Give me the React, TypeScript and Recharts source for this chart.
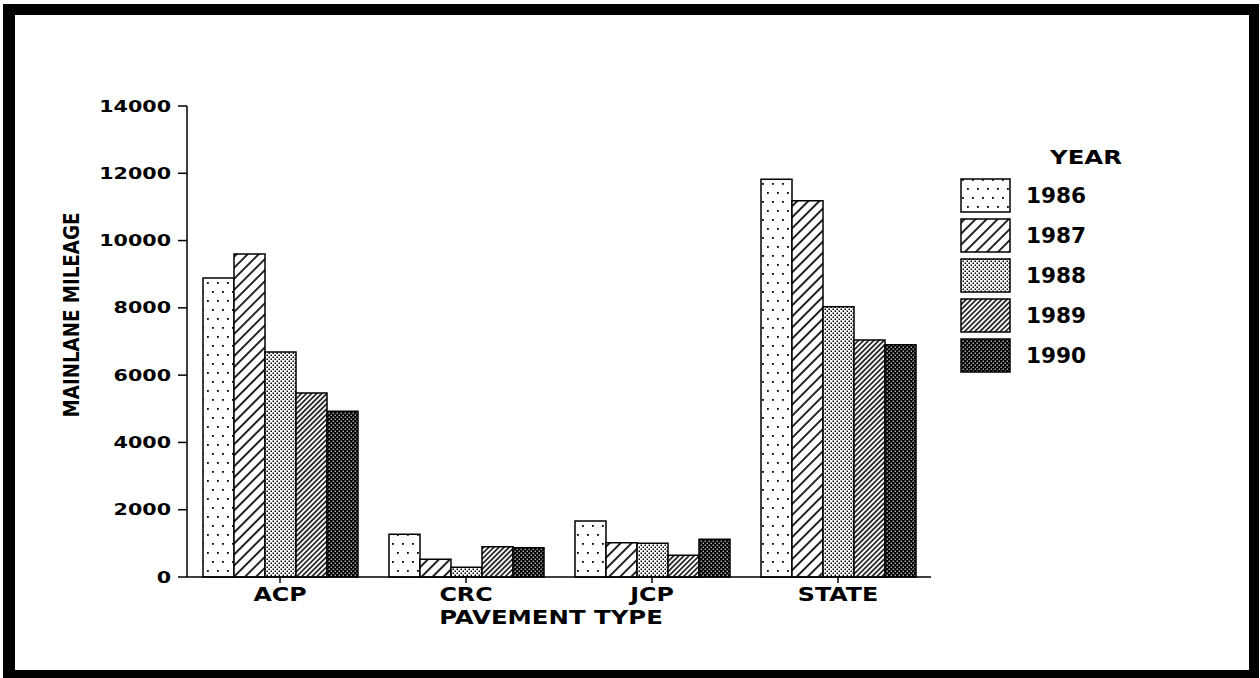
import React from 'react';
import { BarChart, Bar, XAxis, YAxis, Label } from 'recharts';

// Mainlane mileage by pavement type, one series per survey year
const pavementTypes = ['ACP', 'CRC', 'JCP', 'STATE'];
const years = ['1986', '1987', '1988', '1989', '1990'];
const mileage1986 = [8890, 1270, 1665, 11820];
const mileage1987 = [9600, 530, 1020, 11180];
const mileage1988 = [6690, 290, 1000, 8035];
const mileage1989 = [5470, 900, 650, 7045];
const mileage1990 = [4930, 870, 1120, 6900];
const yTicks = [0, 2000, 4000, 6000, 8000, 10000, 12000, 14000];

const seriesValues = [mileage1986, mileage1987, mileage1988, mileage1989, mileage1990];

const chartData = pavementTypes.map((type, i) => {
  const row: Record<string, string | number> = { type };
  years.forEach((year, j) => {
    row[year] = seriesValues[j][i];
  });
  return row;
});

const FONT = '"DejaVu Sans", Arial, sans-serif';

// hatch / dot fills, shared by the bars and the legend swatches
const PatternDefs = () => (
  <svg width={0} height={0} style={{ position: 'absolute' }}>
    <defs>
      <pattern id="pat-1986" width={10} height={18} patternUnits="userSpaceOnUse">
        <rect width={10} height={18} fill="#fff" />
        <rect x={2} y={3} width={1.8} height={1.8} fill="#000" />
        <rect x={7} y={12} width={1.8} height={1.8} fill="#000" />
      </pattern>
      <pattern
        id="pat-1987"
        width={7.8}
        height={7.8}
        patternUnits="userSpaceOnUse"
        patternTransform="rotate(45)"
      >
        <rect width={7.8} height={7.8} fill="#fff" />
        <line x1={3.9} y1={0} x2={3.9} y2={7.8} stroke="#000" strokeWidth={1.7} />
      </pattern>
      <pattern id="pat-1988" width={4} height={4} patternUnits="userSpaceOnUse">
        <rect width={4} height={4} fill="#fff" />
        <rect x={0.5} y={0.5} width={1.5} height={1.5} fill="#000" />
        <rect x={2.5} y={2.5} width={1.5} height={1.5} fill="#000" />
      </pattern>
      <pattern
        id="pat-1989"
        width={3.6}
        height={3.6}
        patternUnits="userSpaceOnUse"
        patternTransform="rotate(45)"
      >
        <rect width={3.6} height={3.6} fill="#fff" />
        <line x1={1.8} y1={0} x2={1.8} y2={3.6} stroke="#000" strokeWidth={1.5} />
      </pattern>
      <pattern id="pat-1990" width={4} height={4} patternUnits="userSpaceOnUse">
        <rect width={4} height={4} fill="#000" />
        <rect x={0.6} y={0.6} width={1.2} height={1.2} fill="#fff" />
        <rect x={2.6} y={2.6} width={1.2} height={1.2} fill="#fff" />
      </pattern>
    </defs>
  </svg>
);

const YTick = ({ x, y, payload }: any) => (
  <text
    transform={`translate(${x},${y}) scale(1.29,1)`}
    textAnchor="end"
    dominantBaseline="central"
    fontFamily={FONT}
    fontWeight="bold"
    fontSize={16}
    fill="#000"
  >
    {payload.value}
  </text>
);

const XTick = ({ x, y, payload }: any) => (
  <text
    transform={`translate(${x},${y + 16}) scale(1.25,1)`}
    textAnchor="middle"
    fontFamily={FONT}
    fontWeight="bold"
    fontSize={19}
    fill="#000"
  >
    {payload.value}
  </text>
);

const XTitle = ({ viewBox }: any) => (
  <text
    transform={`translate(${viewBox.x + viewBox.width / 2 - 8},${viewBox.y + 47}) scale(1.22,1)`}
    textAnchor="middle"
    fontFamily={FONT}
    fontWeight="bold"
    fontSize={20}
    fill="#000"
  >
    PAVEMENT TYPE
  </text>
);

const YTitle = ({ viewBox }: any) => (
  <text
    transform={`translate(${viewBox.x + 4.5},315) rotate(-90) scale(0.83,1)`}
    textAnchor="middle"
    dominantBaseline="central"
    fontFamily={FONT}
    fontWeight="bold"
    fontSize={22}
    fill="#000"
  >
    MAINLANE MILEAGE
  </text>
);

const YearLegend = () => (
  <svg
    width={200}
    height={250}
    style={{ position: 'absolute', left: 950, top: 140 }}
  >
    <text
      transform="translate(136,17) scale(1.22,1)"
      textAnchor="middle"
      dominantBaseline="central"
      fontFamily={FONT}
      fontWeight="bold"
      fontSize={20}
      fill="#000"
    >
      YEAR
    </text>
    {years.map((year, i) => (
      <g key={year}>
        <rect
          x={11}
          y={39 + 40 * i}
          width={49}
          height={33}
          fill={`url(#pat-${year})`}
          stroke="#000"
          strokeWidth={1.5}
        />
        <text
          transform={`translate(76,${55.5 + 40 * i}) scale(1.03,1)`}
          dominantBaseline="central"
          fontFamily={FONT}
          fontWeight="bold"
          fontSize={21}
          fill="#000"
        >
          {year}
        </text>
      </g>
    ))}
  </svg>
);

export default function App() {
  return (
    <div
      style={{
        position: 'absolute',
        left: 0,
        top: 0,
        width: 1260,
        height: 678,
        background: '#fff',
        overflow: 'hidden',
      }}
    >
      <PatternDefs />
      <div
        style={{
          position: 'absolute',
          left: 3,
          top: 4,
          width: 1256,
          height: 674,
          boxSizing: 'border-box',
          borderStyle: 'solid',
          borderColor: '#000',
          borderWidth: '11px 10px 8px 12px',
        }}
      />
      <div style={{ position: 'absolute', left: 0, top: 0 }}>
        <BarChart
          width={1260}
          height={678}
          data={chartData}
          margin={{ top: 106, right: 329, bottom: 61, left: 67 }}
          barGap={0}
        >
          <XAxis
            dataKey="type"
            height={40}
            interval={0}
            tickSize={6}
            tickMargin={2}
            axisLine={{ stroke: '#000', strokeWidth: 1.5 }}
            tickLine={{ stroke: '#000', strokeWidth: 1.5 }}
            tick={<XTick />}
          >
            <Label content={<XTitle />} />
          </XAxis>
          <YAxis
            width={120}
            domain={[0, 14000]}
            ticks={yTicks}
            interval={0}
            tickSize={9}
            tickMargin={7}
            axisLine={{ stroke: '#000', strokeWidth: 1.5 }}
            tickLine={{ stroke: '#000', strokeWidth: 1.5 }}
            tick={<YTick />}
          >
            <Label content={<YTitle />} />
          </YAxis>
          {years.map((year) => (
            <Bar
              key={year}
              dataKey={year}
              barSize={31}
              fill={`url(#pat-${year})`}
              stroke="#000"
              strokeWidth={1.5}
              isAnimationActive={false}
            />
          ))}
        </BarChart>
      </div>
      <YearLegend />
    </div>
  );
}
